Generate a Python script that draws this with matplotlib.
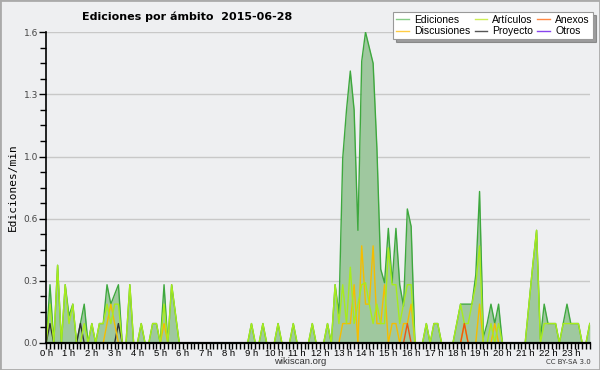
import numpy as np
import matplotlib
matplotlib.use('Agg')
import matplotlib.pyplot as plt
from matplotlib.lines import Line2D
from matplotlib.patches import Rectangle

# Ediciones por minuto, un valor cada 10 minutos (6 por hora, 24 h)
ediciones = [
    0, 0.3, 0, 0.4, 0, 0.3,          # 0 h
    0.14, 0.2, 0, 0.1, 0.2, 0,       # 1 h
    0.1, 0, 0.1, 0.1, 0.3, 0.2,      # 2 h
    0.25, 0.3, 0, 0, 0.3, 0,         # 3 h
    0, 0.1, 0, 0, 0.1, 0.1,          # 4 h
    0, 0.3, 0, 0.3, 0.15, 0,         # 5 h
    0, 0, 0, 0, 0, 0,                # 6 h
    0, 0, 0, 0, 0, 0,                # 7 h
    0, 0, 0, 0, 0, 0,                # 8 h
    0.1, 0, 0, 0.1, 0, 0,            # 9 h
    0, 0.1, 0, 0, 0, 0.1,            # 10 h
    0, 0, 0, 0, 0.1, 0,              # 11 h
    0, 0, 0.1, 0, 0.3, 0.15,         # 12 h
    0.95, 1.2, 1.4, 1.2, 0.58, 1.45, # 13 h
    1.6, 1.52, 1.44, 1.0, 0.38, 0.31, # 14 h
    0.59, 0.31, 0.59, 0.3, 0.19, 0.69, # 15 h
    0.6, 0, 0, 0, 0.1, 0,            # 16 h
    0.1, 0.1, 0, 0, 0, 0,            # 17 h
    0.1, 0.2, 0.2, 0.2, 0.2, 0.35,   # 18 h
    0.78, 0.03, 0.1, 0.2, 0.1, 0.2,  # 19 h
    0, 0, 0, 0, 0, 0,                # 20 h
    0, 0.2, 0.4, 0.58, 0.02, 0.2,    # 21 h
    0.1, 0.1, 0.1, 0, 0.1, 0.2,      # 22 h
    0.1, 0.1, 0.1, 0, 0, 0.1,        # 23 h
]

articulos = [
    0, 0.2, 0, 0.4, 0, 0.3,
    0.1, 0.2, 0, 0, 0.1, 0,
    0.1, 0, 0.1, 0.1, 0.2, 0.1,
    0.2, 0.2, 0, 0, 0.3, 0,
    0, 0.1, 0, 0, 0.1, 0.1,
    0, 0.2, 0, 0.3, 0.15, 0,
    0, 0, 0, 0, 0, 0,
    0, 0, 0, 0, 0, 0,
    0, 0, 0, 0, 0, 0,
    0.1, 0, 0, 0.1, 0, 0,
    0, 0.1, 0, 0, 0, 0.1,
    0, 0, 0, 0, 0.1, 0,
    0, 0, 0.1, 0, 0.3, 0.1,
    0.3, 0.1, 0.39, 0.1, 0.2, 0.3,
    0.31, 0.2, 0.1, 0.2, 0.1, 0.1,
    0.49, 0.3, 0.3, 0.1, 0.2, 0.3,
    0.3, 0, 0, 0, 0.1, 0,
    0.1, 0.1, 0, 0, 0, 0,
    0.1, 0.2, 0.1, 0.1, 0.2, 0.3,
    0.5, 0, 0, 0.1, 0, 0.1,
    0, 0, 0, 0, 0, 0,
    0, 0.2, 0.4, 0.58, 0, 0.1,
    0.1, 0.1, 0.1, 0, 0.1, 0.1,
    0.1, 0.1, 0.1, 0, 0, 0.1,
]

discusiones = [0.0] * 144
for i, v in [(16, 0.1), (17, 0.2), (18, 0.1), (31, 0.1),
             (78, 0.1), (79, 0.1), (80, 0.1), (81, 0.3), (83, 0.5), (84, 0.2),
             (85, 0.2), (86, 0.5), (87, 0.1), (88, 0.1), (89, 0.3), (91, 0.1),
             (92, 0.1), (94, 0.1), (95, 0.1), (96, 0.2),
             (110, 0.1), (114, 0.2), (118, 0.1)]:
    discusiones[i] = v

anexos = [0.0] * 144
for i, v in [(95, 0.1), (110, 0.1)]:
    anexos[i] = v

proyecto = [0.0] * 144
for i, v in [(1, 0.1), (9, 0.1), (19, 0.1)]:
    proyecto[i] = v

horas = np.arange(144) / 6.0
hour_labels = ['%d h' % h for h in range(24)]

bg = '#eeeff1'
fig = plt.figure(figsize=(6, 3.7), dpi=100, facecolor=bg)
ax = fig.add_axes([0.077, 0.073, 0.906, 0.84], facecolor=bg)

ax.fill_between(horas, ediciones, 0, color='#9fc89f', lw=0, zorder=2)
ax.plot(horas, ediciones, color='#3ea83e', lw=1, zorder=3)
ax.plot(horas, proyecto, color='#333333', lw=1, zorder=4)
ax.plot(horas, discusiones, color='#f5bd00', lw=1, zorder=4)
ax.plot(horas, anexos, color='#ee5511', lw=1, zorder=5)
ax.plot(horas, articulos, color='#a8ec1c', lw=1, zorder=4)

ax.set_xlim(0, 143 / 6.0)
ax.set_ylim(0, 1.6)
yt = np.arange(6) * 0.32
ax.set_yticks(yt)
ax.set_yticklabels(['%.1f' % v for v in yt])
ax.set_yticks(np.arange(21) * 0.08, minor=True)
ax.set_xticks(range(24))
ax.set_xticklabels(hour_labels, family='Liberation Sans')
ax.set_xticks(np.arange(144) / 6.0, minor=True)

ax.grid(axis='y', color='#c8c8c8', lw=1)
ax.set_axisbelow(True)
for s in ['top', 'right']:
    ax.spines[s].set_visible(False)
ax.spines['left'].set_linewidth(1.2)
ax.spines['bottom'].set_linewidth(1.6)
ax.spines['bottom'].set_zorder(10)
ax.spines['left'].set_zorder(10)
ax.tick_params(axis='both', which='both', direction='out', width=1, colors='black',
               labelcolor='#444444', labelsize=6.5, pad=1)
ax.tick_params(axis='y', which='major', length=5)
ax.tick_params(axis='y', which='minor', length=4)
ax.tick_params(axis='x', which='both', length=4, pad=0)
ax.tick_params(axis='x', labelcolor='black', labelsize=6.8)

ax.set_ylabel('Ediciones/min', family='DejaVu Sans Mono', fontsize=8, labelpad=4)

fig.text(0.312, 0.955, 'Ediciones por ámbito  2015-06-28', ha='center', va='center',
         fontsize=8, fontweight='bold')
fig.text(0.5, 0.012, 'wikiscan.org', ha='center', va='bottom', fontsize=6.8,
         color='#333333', family='Liberation Sans')
fig.text(0.985, 0.022, 'CC BY-SA 3.0', ha='right', va='center', fontsize=5, color='#333333')

handles = [
    Line2D([], [], color='#88cc88', lw=1),
    Line2D([], [], color='#ffcc44', lw=1),
    Line2D([], [], color='#ccee55', lw=1),
    Line2D([], [], color='#555555', lw=1),
    Line2D([], [], color='#ff8844', lw=1),
    Line2D([], [], color='#8844ee', lw=1),
]
labels = ['Ediciones', 'Discusiones', 'Artículos', 'Proyecto', 'Anexos', 'Otros']
leg = fig.legend(handles, labels, ncol=3, loc='upper right', bbox_to_anchor=(0.988, 0.968),
                 prop={'family': 'Liberation Sans', 'size': 7.5}, frameon=True,
                 fancybox=False, shadow=True,
                 handlelength=1.2, handletextpad=0.5, columnspacing=0.4,
                 labelspacing=0.12, borderpad=0.3, borderaxespad=0)
leg.get_frame().set_edgecolor('#999999')
leg.get_frame().set_linewidth(0.8)

fig.patches.append(Rectangle((0, 0), 1, 1, transform=fig.transFigure, fill=False,
                             ec='#aaaaaa', lw=2))

fig.savefig('out.png', dpi=100, facecolor=bg)
